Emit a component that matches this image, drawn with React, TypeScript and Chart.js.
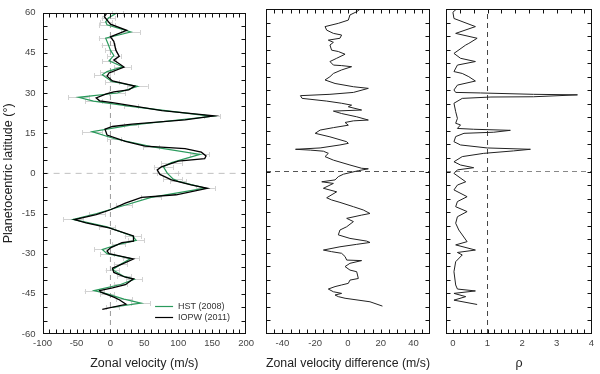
import React, { useEffect, useRef } from "react";
import { Chart, registerables } from "chart.js";
Chart.register(...registerables);

const FONT = "'Liberation Sans', Arial, Helvetica, sans-serif";

// ---------- tick labels ----------
const latTicks = [-60, -45, -30, -15, 0, 15, 30, 45, 60];
const velTicks = [-100, -50, 0, 50, 100, 150, 200];
const diffTicks = [-40, -20, 0, 20, 40];
const rhoTicks = [0, 1, 2, 3, 4];
const seriesNames = ["HST (2008)", "IOPW (2011)"];

// ---------- panel 1: zonal velocity profiles ----------
const hstLat = [60, 58, 56.6, 55.5, 52.8, 50.5, 48, 46, 44, 42, 39.8, 38, 36.8, 34.3, 32.5, 30, 28.4, 27, 25, 21.3, 18, 15.6, 13, 10, 7.1, 4, 2.5, 0, -2, -3, -5.5, -9, -12, -15, -17.2, -20, -23.5, -25, -26.5, -28.4, -30, -31.8, -34, -36, -38.5, -39.6, -41.5, -43.8, -45, -47, -48.5, -50];
const hstVel = [10, -3, -7, -5, 30, -7, -3, 0, 5, -2, 18, -5, -12, 2, 40, 10, -47, -25, 30, 150, 30, -27, 5, 60, 132, 90, 78, 84, 92, 100, 140, 60, 20, -20, -55, -5, 33, 38, 12, -12, -5, 30, 15, 3, 20, 35, 15, -24, -5, 20, 45, 3];
const hstErr = [8, 10, 9, 12, 14, 10, 10, 8, 10, 10, 12, 10, 12, 10, 15, 12, 15, 12, 10, 12, 10, 15, 10, 12, 14, 15, 14, 15, 14, 12, 14, 15, 12, 12, 15, 12, 12, 12, 10, 12, 10, 12, 10, 10, 10, 12, 10, 14, 10, 12, 14, 10];

const iopwLat = [59.6, 58.5, 55.7, 53.4, 51, 49.3, 46, 43.7, 42.3, 39.7, 37.5, 36.3, 34.5, 32.6, 31.2, 30.4, 29.7, 28.2, 27.1, 26.4, 23.4, 21.5, 20, 18.4, 17.5, 16.5, 14.3, 11.9, 10.2, 9.2, 7.9, 6.5, 5.5, 4.6, 2.4, 1.3, -0.4, -2.4, -4.3, -5.6, -8, -9, -11.1, -13.6, -15.4, -17.3, -18.5, -20.4, -23.4, -25.3, -25.9, -27.8, -29, -30, -30.8, -32, -33.9, -35.4, -37, -38.8, -39.4, -41.6, -42.8, -43.8, -44.4, -46.2, -47.2, -48.9, -50.8];
const iopwVel = [-6, -9, 0, 24, 0, 5, 8, 13, 5, 20, -2, -5, 3, 36, 27, 5, -6, -21, -16, 3, 76, 153, 110, 32, 3, -8, -5, 22, 51, 110, 134, 141, 139, 100, 75, 69, 73, 90, 119, 143, 97, 46, 22, 0, -21, -53, -36, -2, 34, 34, 17, 0, -5, -2, 13, 34, 17, 3, 5, 22, 34, 22, 3, -16, -14, 5, 13, 23, -12];

// ---------- panel 2: velocity difference ----------
const diffLat = [59.9, 59, 57.8, 55.9, 54.7, 53.5, 52.2, 51, 50.4, 49.2, 48.5, 47.7, 46.7, 44.8, 44.3, 43.3, 41.8, 40.6, 39.3, 39.1, 38.7, 37.5, 36.2, 35, 33.8, 32.5, 31.3, 30.7, 29.2, 28.5, 28, 27, 26, 25.2, 24.5, 23.9, 22.7, 22.3, 21.4, 20.2, 19, 18.7, 18.1, 17.1, 16.2, 15.3, 14.1, 12.8, 11, 10.4, 9.8, 8.7, 8.2, 7.9, 7.5, 6.7, 5.5, 4.2, 2.4, 1.2, 1, 0.3, -1, -1.9, -3.1, -3.8, -4.4, -6.2, -7.5, -9.7, -10.5, -11.4, -13, -14.2, -15.5, -16.1, -17.3, -18.5, -20.4, -21.6, -23.4, -24.7, -25.7, -26.2, -26.9, -27.8, -29, -29.6, -30.2, -31.4, -32.7, -32.9, -33.9, -35.1, -36.4, -37, -39.5, -40.1, -41.3, -41.9, -42.5, -43.4, -44.4, -45, -45.6, -46.2, -46.8, -48.1, -49.7];
const diffVal = [7.3, 5.3, 1.2, 0.2, -5.9, -14, -13, -8.9, -3.9, -4.9, -12, -8.9, -11, -10, -5.9, -1.8, -6.9, -11, -8.9, -3.9, 2.2, -3.9, -8.9, -11, -14, -7.9, 3.3, 12.4, 3.3, -11, -29, -28, -13, -3.9, 2.2, 0.2, 8.3, -8.9, -3.9, 5.3, 12.4, 3.3, -1.8, 0.2, -8.9, -17, -20, -11, -0.8, 0.2, -4.9, -17, -32, -23, -15, -12, -14, -8.9, 1.2, 8.3, 12.4, 6.3, -2.8, -5.9, -7.9, -16, -8.9, -15, -6.9, -13, -10, -4.9, 3.3, 9.3, 13.4, 8.3, -0.8, 3.3, -0.8, -4.9, -5.9, 1.2, 11.4, 13.4, 5.3, -4.9, -15, -10, -3.9, -1.8, -0.8, 8.3, 1.2, -1.8, 1.2, 5.3, 6.3, 1.2, 0.2, -3.9, -7.9, -12, -8.9, -3.9, -7.9, -5.9, -1.8, 13.4, 21];

// ---------- panel 3: rho ----------
const rhoLat = [60.3, 58.8, 56.5, 53.5, 51, 49.2, 47.3, 46.7, 43.6, 41.8, 40.6, 39.3, 36.9, 36.2, 35, 33.4, 31.9, 30.1, 29.2, 29, 28.5, 28.3, 27.6, 27.5, 27, 25.2, 22.1, 19.6, 17.8, 17.2, 15.9, 15.6, 15.2, 14.5, 14.1, 12.9, 11, 9.8, 8.7, 8.2, 7.6, 6.7, 5.5, 3.6, 2.4, 1.4, 0.6, -0.7, -3.8, -5, -6.8, -9.3, -11.1, -13, -14.8, -16.7, -19.1, -21.6, -25.9, -27.1, -29, -29.9, -30.8, -33.3, -37, -41.9, -43.4, -44.1, -45, -46.2, -47.5, -49.1];
const rhoVal = [0.13, 0.0, 0.03, 0.65, 0.08, 0.7, 0.46, 0.37, 0.03, 0.22, 0.65, 0.13, 0.03, 0.27, 0.46, 0.65, 0.13, 0.03, 0.08, 0.8, 2.33, 3.6, 2.33, 1.1, 0.27, 0.03, 0.08, 0.13, 0.08, 0.22, 0.13, 0.6, 1.66, 1.18, 0.32, 0.08, 0.03, 0.22, 0.99, 2.24, 1.75, 0.89, 0.27, 0.03, 0.22, 0.6, 0.13, 0.03, 0.37, 0.13, 0.03, 0.41, 0.13, 0.08, 0.41, 0.13, 0.08, 0.17, 0.41, 0.08, 0.65, 0.13, 0.27, 0.08, 0.03, 0.08, 0.13, 0.65, 0.03, 0.37, 0.03, 0.7];

// ---------- helpers ----------
const pts = (lat: number[], val: number[]) => lat.map((y, i) => ({ x: val[i], y }));

const steps = (min: number, max: number, step: number) => {
  const n = Math.round((max - min) / step);
  const r: number[] = [];
  for (let i = 0; i <= n; i++) r.push(min + i * step);
  return r;
};

const framePlugin = {
  id: "frame",
  afterDatasetsDraw(chart: any, _a: any, o: any) {
    const { ctx, chartArea: a, scales } = chart;
    const xs = scales.x, ys = scales.y;
    const L = 4;
    ctx.save();
    ctx.strokeStyle = "#111";
    ctx.lineWidth = 1;
    const l = Math.round(a.left) + 0.5, r = Math.round(a.right) - 0.5;
    const t = Math.round(a.top) + 0.5, b = Math.round(a.bottom) - 0.5;
    ctx.strokeRect(l, t, r - l, b - t);
    const line = (x1: number, y1: number, x2: number, y2: number) => {
      ctx.beginPath(); ctx.moveTo(x1, y1); ctx.lineTo(x2, y2); ctx.stroke();
    };
    for (const v of steps(o.xStart, o.xEnd, o.xStep)) {
      const px = Math.round(xs.getPixelForValue(v)) + 0.5;
      if (px > l + 1 && px < r - 1) line(px, b, px, b - L);
    }
    for (const v of steps(o.xTopStart, o.xEnd, o.xTopStep)) {
      const px = Math.round(xs.getPixelForValue(v)) + 0.5;
      if (px > l + 1 && px < r - 1) line(px, t, px, t + L);
    }
    for (const v of steps(-60, 60, 5)) {
      const py = Math.round(ys.getPixelForValue(v)) + 0.5;
      if (py > t + 1 && py < b - 1) { line(l, py, l + L, py); line(r, py, r - L, py); }
    }
    ctx.restore();
  },
};

const errorBarPlugin = {
  id: "errbars",
  beforeDatasetsDraw(chart: any) {
    const { ctx, scales } = chart;
    const xs = scales.x, ys = scales.y;
    ctx.save();
    ctx.strokeStyle = "#d2d2d2";
    ctx.lineWidth = 1;
    hstLat.forEach((lat, i) => {
      const py = Math.round(ys.getPixelForValue(lat)) + 0.5;
      const x1 = xs.getPixelForValue(hstVel[i] - hstErr[i]);
      const x2 = xs.getPixelForValue(hstVel[i] + hstErr[i]);
      ctx.beginPath(); ctx.moveTo(x1, py); ctx.lineTo(x2, py); ctx.stroke();
      for (const x of [x1, x2]) {
        ctx.beginPath(); ctx.moveTo(Math.round(x) + 0.5, py - 2.5); ctx.lineTo(Math.round(x) + 0.5, py + 2.5); ctx.stroke();
      }
    });
    ctx.restore();
  },
};

const legendPlugin = {
  id: "innerLegend",
  afterDatasetsDraw(chart: any) {
    const { ctx, chartArea: a } = chart;
    const colors = ["#2a9a5c", "#000"];
    ctx.save();
    ctx.font = `9px ${FONT}`;
    ctx.textBaseline = "middle";
    ctx.textAlign = "left";
    seriesNames.forEach((name, i) => {
      const y = Math.round(a.bottom - 28 + i * 11.3) + 0.5;
      ctx.strokeStyle = colors[i];
      ctx.lineWidth = 1.2;
      ctx.beginPath(); ctx.moveTo(a.right - 91, y); ctx.lineTo(a.right - 73, y); ctx.stroke();
      ctx.fillStyle = "#333";
      ctx.fillText(name, a.right - 68, y);
    });
    ctx.restore();
  },
};

const tickFont = { size: 9.5, family: FONT };
const titleFont = { size: 12.5, family: FONT };

const xAxis = (min: number, max: number, ticks: number[], title: string) => ({
  type: "linear",
  min,
  max,
  afterBuildTicks: (s: any) => { s.ticks = ticks.map((v) => ({ value: v })); },
  afterFit: (s: any) => { s.height = 40; },
  grid: { display: false, drawTicks: false },
  border: { display: false },
  ticks: { padding: 4, color: "#444", font: tickFont, maxRotation: 0, autoSkip: false },
  title: { display: true, text: title, color: "#222", font: titleFont, padding: { top: 0, bottom: 3 } },
});

const yAxisHidden = { type: "linear", min: -60, max: 60, display: false };

const refLine = (data: { x: number; y: number }[], color: string, dash: number[]) => ({
  data,
  borderColor: color,
  borderWidth: 1,
  borderDash: dash,
  pointRadius: 0,
  showLine: true,
  order: 10,
});

const baseOptions = (padLeft: number, padRight: number) => ({
  responsive: false,
  animation: false,
  devicePixelRatio: 1,
  layout: { padding: { top: 9, left: padLeft, right: padRight, bottom: 0 } },
});

function useChart(ref: React.RefObject<HTMLCanvasElement>, build: () => any) {
  useEffect(() => {
    if (!ref.current) return;
    const chart = new Chart(ref.current, build());
    return () => chart.destroy();
  }, []);
}

export default function App() {
  const r1 = useRef<HTMLCanvasElement>(null);
  const r2 = useRef<HTMLCanvasElement>(null);
  const r3 = useRef<HTMLCanvasElement>(null);

  useChart(r1, () => ({
    type: "scatter",
    data: {
      datasets: [
        { label: seriesNames[1], data: pts(iopwLat, iopwVel), borderColor: "#000", borderWidth: 1.3, pointRadius: 0, showLine: true, order: 0 },
        { label: seriesNames[0], data: pts(hstLat, hstVel), borderColor: "#2a9a5c", borderWidth: 1.2, pointRadius: 0, showLine: true, order: 1 },
        refLine([{ x: 0, y: -60 }, { x: 0, y: 60 }], "#9a9a9a", [5, 4]),
        refLine([{ x: -100, y: 0 }, { x: 200, y: 0 }], "#c0c0c0", [6, 5]),
      ],
    },
    options: {
      ...baseOptions(0, 9.7),
      plugins: {
        legend: { display: false },
        tooltip: { enabled: false },
        frame: { xStart: -100, xEnd: 200, xStep: 10, xTopStart: -100, xTopStep: 10 },
      },
      scales: {
        x: xAxis(-100, 200, velTicks, "Zonal velocity (m/s)"),
        y: {
          type: "linear",
          min: -60,
          max: 60,
          afterBuildTicks: (s: any) => { s.ticks = latTicks.map((v) => ({ value: v })); },
          afterFit: (s: any) => { s.width = 42.6; },
          grid: { display: false, drawTicks: false },
          border: { display: false },
          ticks: { padding: 7, color: "#444", font: tickFont },
          title: { display: true, text: "Planetocentric latitude (°)", color: "#222", font: titleFont, padding: { top: 1.5, bottom: 0 } },
        },
      },
    },
    plugins: [errorBarPlugin, framePlugin, legendPlugin],
  }));

  useChart(r2, () => ({
    type: "scatter",
    data: {
      datasets: [
        { label: "difference", data: pts(diffLat, diffVal), borderColor: "#222", borderWidth: 1, pointRadius: 0, showLine: true, order: 0 },
        refLine([{ x: -50, y: 0 }, { x: 50, y: 0 }], "#555", [5, 4]),
      ],
    },
    options: {
      ...baseOptions(8, 8),
      plugins: {
        legend: { display: false },
        tooltip: { enabled: false },
        frame: { xStart: -50, xEnd: 50, xStep: 5, xTopStart: -50, xTopStep: 5 },
      },
      scales: {
        x: xAxis(-50, 50, diffTicks, "Zonal velocity difference (m/s)"),
        y: yAxisHidden,
      },
    },
    plugins: [framePlugin],
  }));

  useChart(r3, () => ({
    type: "scatter",
    data: {
      datasets: [
        { label: "rho", data: pts(rhoLat, rhoVal), borderColor: "#222", borderWidth: 1, pointRadius: 0, showLine: true, order: 0 },
        refLine([{ x: 1, y: -60 }, { x: 1, y: 60 }], "#444", [5, 4]),
        refLine([{ x: -0.2, y: 0 }, { x: 4.02, y: 0 }], "#888", [5, 4]),
      ],
    },
    options: {
      ...baseOptions(8, 8),
      plugins: {
        legend: { display: false },
        tooltip: { enabled: false },
        frame: { xStart: -0.2, xEnd: 4, xStep: 0.2, xTopStart: -0.2, xTopStep: 0.4 },
      },
      scales: {
        x: xAxis(-0.2, 4.02, rhoTicks, "ρ"),
        y: yAxisHidden,
      },
    },
    plugins: [framePlugin],
  }));

  return (
    <div style={{ position: "fixed", left: 0, top: 0, width: 600, height: 374, background: "#fff" }}>
      <canvas ref={r1} width={258} height={374} style={{ position: "absolute", left: 0, top: 0 }} />
      <canvas ref={r2} width={180} height={374} style={{ position: "absolute", left: 258, top: 0 }} />
      <canvas ref={r3} width={162} height={374} style={{ position: "absolute", left: 438, top: 0 }} />
    </div>
  );
}
